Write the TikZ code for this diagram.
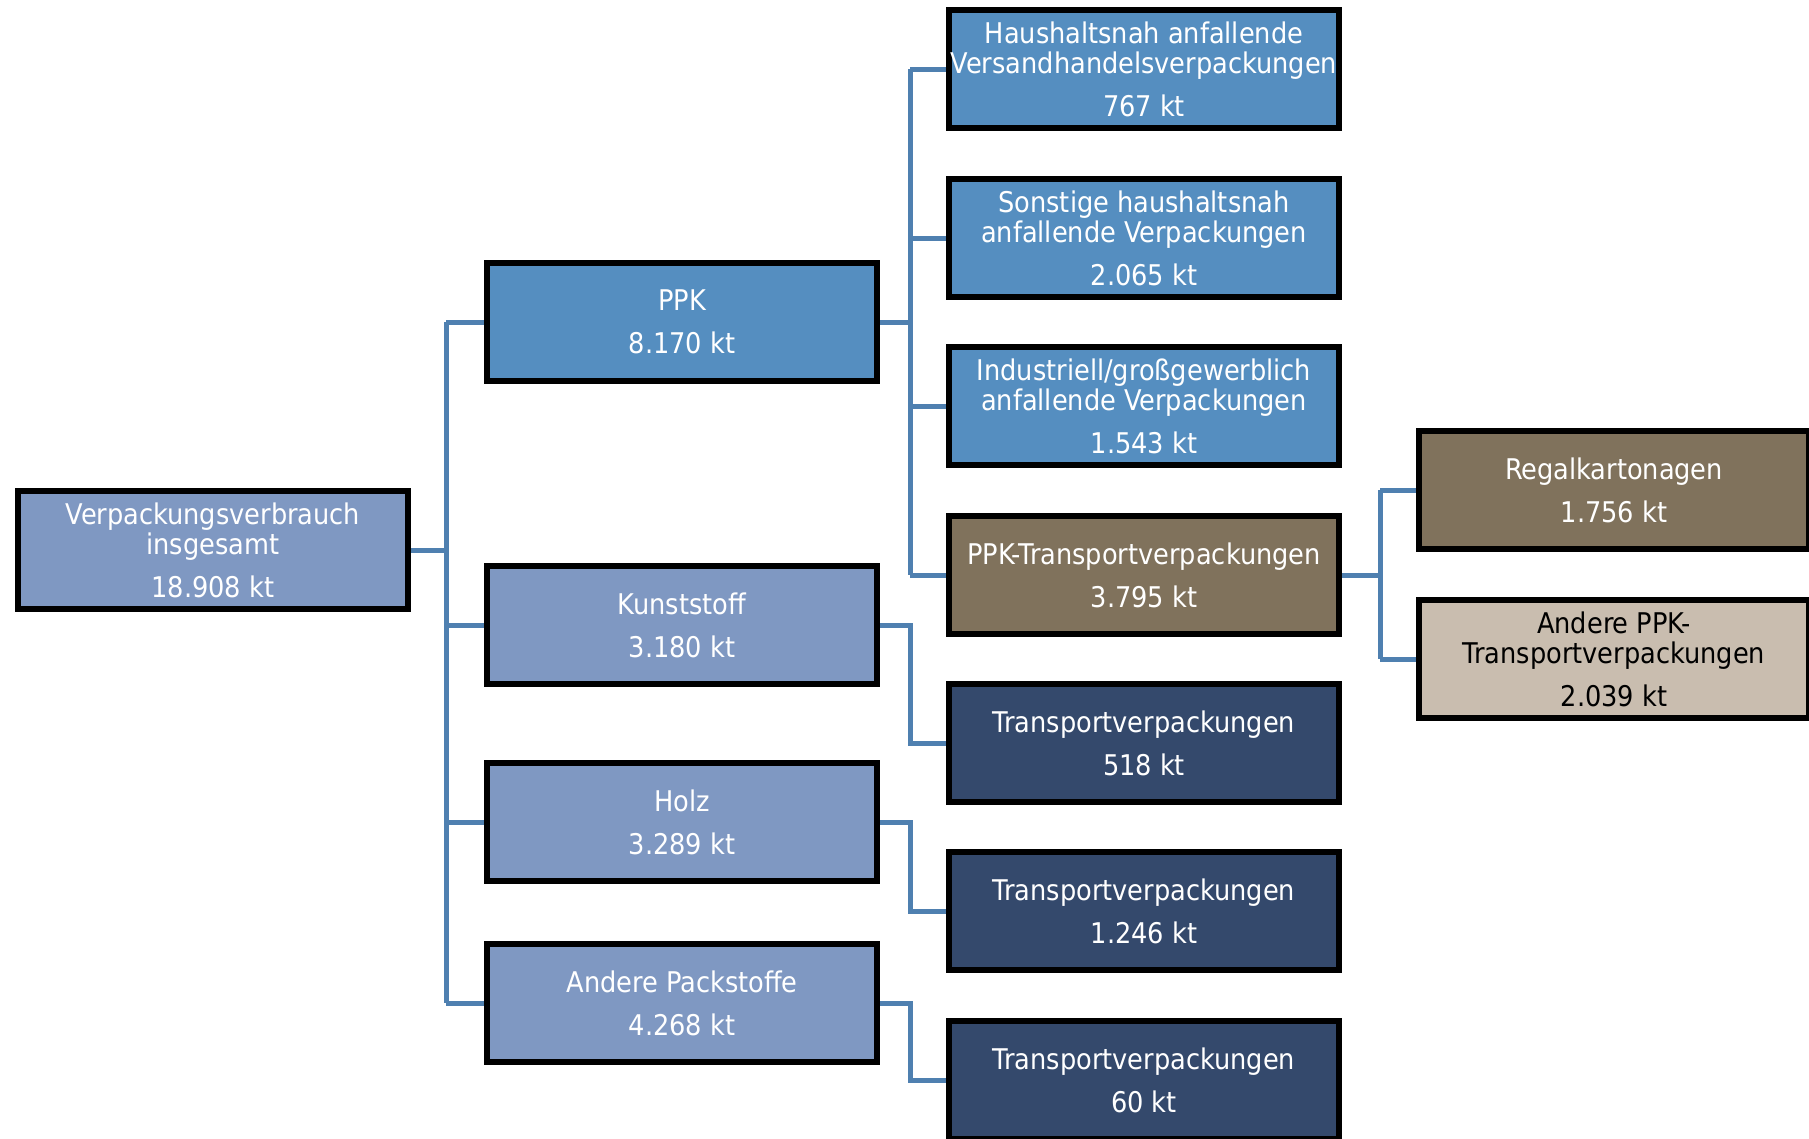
\documentclass[tikz,border=0pt]{standalone}
\usepackage{fontspec}
\setmainfont{DejaVu Sans Condensed}
\usetikzlibrary{backgrounds}
\definecolor{cLight}{HTML}{7F98C2}
\definecolor{cMid}{HTML}{558EC0}
\definecolor{cBrown}{HTML}{80725C}
\definecolor{cBeige}{HTML}{C9BDAF}
\definecolor{cDark}{HTML}{34496C}
\definecolor{cLine}{HTML}{4F80B0}
\begin{document}
\begin{tikzpicture}[x=1pt,y=-1pt,
  box/.style={draw=black, line width=6pt, minimum width=390pt, minimum height=118pt,
    inner sep=0pt, align=center, text=white, font=\fontsize{28.5}{30}\selectfont},
  conn/.style={draw=cLine, line width=5pt}]
\clip (0,0) rectangle (1809,1138);
\useasboundingbox (0,0) rectangle (1809,1138);
\node[box, fill=cLight] (root) at (213,550) {Verpackungsverbrauch\\insgesamt\\[13pt]18.908 kt};
\node[box, fill=cMid] (ppk) at (682,322) {PPK\\[13pt]8.170 kt};
\node[box, fill=cLight] (kun) at (682,625) {Kunststoff\\[13pt]3.180 kt};
\node[box, fill=cLight] (holz) at (682,822) {Holz\\[13pt]3.289 kt};
\node[box, fill=cLight] (andp) at (682,1003) {Andere Packstoffe\\[13pt]4.268 kt};
\node[box, fill=cMid] (hh) at (1144,69) {Haushaltsnah anfallende\\Versandhandelsverpackungen\\[13pt]767 kt};
\node[box, fill=cMid] (son) at (1144,238) {Sonstige haushaltsnah\\anfallende Verpackungen\\[13pt]2.065 kt};
\node[box, fill=cMid] (ind) at (1144,406) {Industriell/großgewerblich\\anfallende Verpackungen\\[13pt]1.543 kt};
\node[box, fill=cBrown] (ppkt) at (1144,575) {PPK-Transportverpackungen\\[13pt]3.795 kt};
\node[box, fill=cDark] (t1) at (1144,743) {Transportverpackungen\\[13pt]518 kt};
\node[box, fill=cDark] (t2) at (1144,911) {Transportverpackungen\\[13pt]1.246 kt};
\node[box, fill=cDark] (t3) at (1144,1080) {Transportverpackungen\\[13pt]60 kt};
\node[box, fill=cBrown] (regal) at (1614,490) {Regalkartonagen\\[13pt]1.756 kt};
\node[box, fill=cBeige, text=black] (appk) at (1614,659) {Andere PPK-\\Transportverpackungen\\[13pt]2.039 kt};
\coordinate (bus1) at (446,0);
\coordinate (bus2) at (910,0);
\coordinate (bus3) at (1380,0);
\begin{scope}[on background layer]
\draw[conn] (root.east) -- (root.east -| bus1);
\draw[conn] (bus1 |- ppk) -- (bus1 |- andp);
\foreach \n in {ppk,kun,holz,andp} \draw[conn] (bus1 |- \n) -- (\n.west);
\draw[conn] (ppk.east) -- (ppk.east -| bus2);
\draw[conn] (bus2 |- hh) -- (bus2 |- ppkt);
\foreach \n in {hh,son,ind,ppkt} \draw[conn] (bus2 |- \n) -- (\n.west);
\draw[conn] (kun.east) -- (kun.east -| bus2) |- (t1.west);
\draw[conn] (holz.east) -- (holz.east -| bus2) |- (t2.west);
\draw[conn] (andp.east) -- (andp.east -| bus2) |- (t3.west);
\draw[conn] (ppkt.east) -- (ppkt.east -| bus3);
\draw[conn] (bus3 |- regal) -- (bus3 |- appk);
\foreach \n in {regal,appk} \draw[conn] (bus3 |- \n) -- (\n.west);
\end{scope}
\end{tikzpicture}
\end{document}
